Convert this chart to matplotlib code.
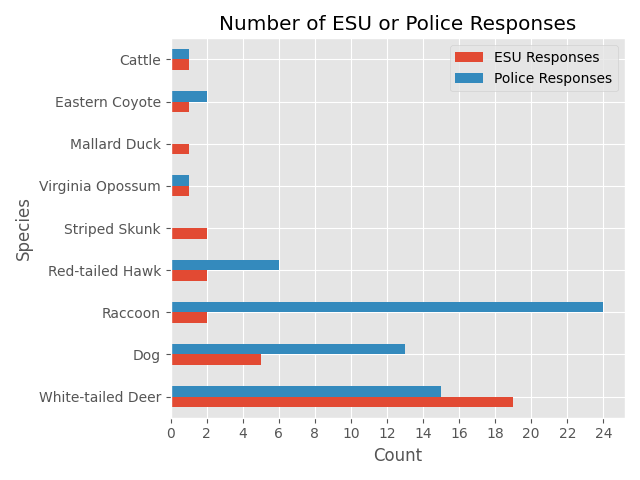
import numpy as np
import matplotlib
matplotlib.use("Agg")
import matplotlib.pyplot as plt

plt.style.use('ggplot')

species = ["White-tailed Deer", "Dog", "Raccoon", "Red-tailed Hawk", "Striped Skunk",
           "Virginia Opossum", "Mallard Duck", "Eastern Coyote", "Cattle"]
esu = [19, 5, 2, 2, 2, 1, 1, 1, 1]
police = [15, 13, 24, 6, 0, 1, 0, 2, 1]

fig, ax = plt.subplots(figsize=(6.4, 4.8), dpi=100)
pos = np.arange(len(species))
h = 0.25
ax.barh(pos - h / 2, esu, height=h, color='#E24A33', label='ESU Responses')
ax.barh(pos + h / 2, police, height=h, color='#348ABD', label='Police Responses')

ax.set_yticks(pos)
ax.set_yticklabels(species)
ax.set_ylim(-0.5, len(species) - 0.5)
ax.set_xticks(range(0, 25, 2))
ax.set_xlim(0, 25.2)
ax.set_title("Number of ESU or Police Responses")
ax.set_xlabel("Count")
ax.set_ylabel("Species")
ax.legend(loc='upper right')

plt.tight_layout()
plt.savefig("out.png")
